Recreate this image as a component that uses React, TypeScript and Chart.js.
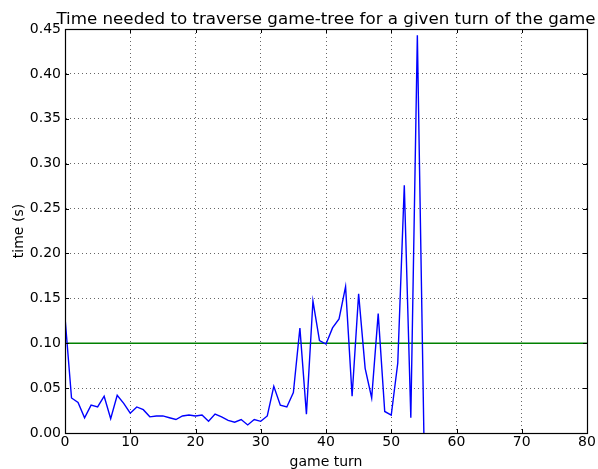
import React, { useEffect, useRef } from "react";
import { Chart, registerables } from "chart.js";

Chart.register(...registerables);

// Time per game turn (seconds)
const turns: number[] = [
  0, 1, 2, 3, 4, 5, 6, 7, 8, 9, 10, 11, 12, 13, 14, 15, 16, 17, 18, 19, 20,
  21, 22, 23, 24, 25, 26, 27, 28, 29, 30, 31, 32, 33, 34, 35, 36, 37, 38, 39,
  40, 41, 42, 43, 44, 45, 46, 47, 48, 49, 50, 51, 52, 53, 54, 55,
];
const times: number[] = [
  0.129, 0.039, 0.034, 0.017, 0.031, 0.029, 0.041, 0.016, 0.042, 0.033, 0.022,
  0.029, 0.026, 0.018, 0.019, 0.019, 0.017, 0.015, 0.019, 0.02, 0.019, 0.02,
  0.013, 0.021, 0.018, 0.014, 0.012, 0.015, 0.009, 0.015, 0.013, 0.019, 0.052,
  0.031, 0.029, 0.045, 0.117, 0.021, 0.147, 0.103, 0.099, 0.117, 0.127, 0.163,
  0.041, 0.155, 0.072, 0.039, 0.133, 0.024, 0.02, 0.078, 0.276, 0.017, 0.443,
  0.0,
];
// Reference threshold line
const thresholdX: number[] = [0, 80];
const thresholdY: number[] = [0.1, 0.1];

const xTicks: number[] = [0, 10, 20, 30, 40, 50, 60, 70, 80];
const yTicks: number[] = [0, 0.05, 0.1, 0.15, 0.2, 0.25, 0.3, 0.35, 0.4, 0.45];

const titleText = "Time needed to traverse game-tree for a given turn of the game";
const xLabel = "game turn";
const yLabel = "time (s)";

const FONT = "'DejaVu Sans', sans-serif";

// Frame, inward tick marks, title and axis labels
const decorations = {
  id: "decorations",
  afterDatasetsDraw(chart: any) {
    const { ctx, chartArea } = chart;
    const { left, right, top, bottom } = chartArea;
    const xs = chart.scales.x;
    const ys = chart.scales.y;
    ctx.save();
    ctx.strokeStyle = "#000";
    ctx.lineWidth = 1;
    ctx.beginPath();
    for (const v of xTicks) {
      const px = Math.round(xs.getPixelForValue(v)) + 0.5;
      ctx.moveTo(px, bottom);
      ctx.lineTo(px, bottom - 4);
      ctx.moveTo(px, top);
      ctx.lineTo(px, top + 4);
    }
    for (const v of yTicks) {
      const py = Math.round(ys.getPixelForValue(v)) + 0.5;
      ctx.moveTo(left, py);
      ctx.lineTo(left + 4, py);
      ctx.moveTo(right, py);
      ctx.lineTo(right - 4, py);
    }
    ctx.stroke();
    ctx.lineWidth = 1.2;
    ctx.strokeRect(
      Math.round(left) + 0.5,
      Math.round(top) + 0.5,
      Math.round(right - left),
      Math.round(bottom - top)
    );
    ctx.restore();
  },
  afterDraw(chart: any) {
    const { ctx, chartArea } = chart;
    const cx = (chartArea.left + chartArea.right) / 2;
    const cy = (chartArea.top + chartArea.bottom) / 2;
    ctx.save();
    ctx.fillStyle = "#000";
    ctx.textAlign = "center";
    ctx.textBaseline = "alphabetic";
    ctx.font = `16.7px ${FONT}`;
    ctx.fillText(titleText, cx, 24);
    ctx.font = `14px ${FONT}`;
    ctx.fillText(xLabel, cx, 466);
    ctx.translate(23, cy);
    ctx.rotate(-Math.PI / 2);
    ctx.fillText(yLabel, 0, 0);
    ctx.restore();
  },
};

export default function App() {
  const canvasRef = useRef<HTMLCanvasElement | null>(null);

  useEffect(() => {
    if (!canvasRef.current) return;
    const chart = new Chart(canvasRef.current, {
      type: "line",
      data: {
        datasets: [
          {
            data: turns.map((t, i) => ({ x: t, y: times[i] })),
            borderColor: "#0000ff",
            borderWidth: 1.4,
            pointRadius: 0,
            tension: 0,
            fill: false,
          },
          {
            data: thresholdX.map((t, i) => ({ x: t, y: thresholdY[i] })),
            borderColor: "#008000",
            borderWidth: 1.4,
            pointRadius: 0,
            tension: 0,
            fill: false,
          },
        ],
      },
      options: {
        animation: false,
        responsive: false,
        layout: { padding: { top: 29, right: 11, left: 0, bottom: 0 } },
        plugins: {
          legend: { display: false },
          title: { display: false },
          tooltip: { enabled: false },
        },
        scales: {
          x: {
            type: "linear",
            min: 0,
            max: 80,
            afterFit: (s: any) => {
              s.height = 36;
            },
            afterBuildTicks: (s: any) => {
              s.ticks = xTicks.map((v) => ({ value: v }));
            },
            ticks: {
              color: "#000",
              font: { family: FONT, size: 14 },
              padding: 1,
              maxRotation: 0,
              callback: (v: any) => String(v),
            },
            grid: { color: "#666", drawTicks: false, lineWidth: 1 },
            border: { display: true, color: "#000", width: 1, dash: [1, 3] },
          },
          y: {
            type: "linear",
            min: 0,
            max: 0.45,
            afterFit: (s: any) => {
              s.width = 65;
            },
            afterBuildTicks: (s: any) => {
              s.ticks = yTicks.map((v) => ({ value: v }));
            },
            ticks: {
              color: "#000",
              font: { family: FONT, size: 14 },
              padding: 4,
              callback: (v: any) => Number(v).toFixed(2),
            },
            grid: { color: "#666", drawTicks: false, lineWidth: 1 },
            border: { display: true, color: "#000", width: 1, dash: [1, 3] },
          },
        },
      },
      plugins: [decorations],
    });
    return () => chart.destroy();
  }, []);

  return (
    <div style={{ position: "fixed", left: 0, top: 0, width: 598, height: 469, background: "#fff" }}>
      <canvas ref={canvasRef} width={598} height={469} style={{ width: 598, height: 469 }} />
    </div>
  );
}
